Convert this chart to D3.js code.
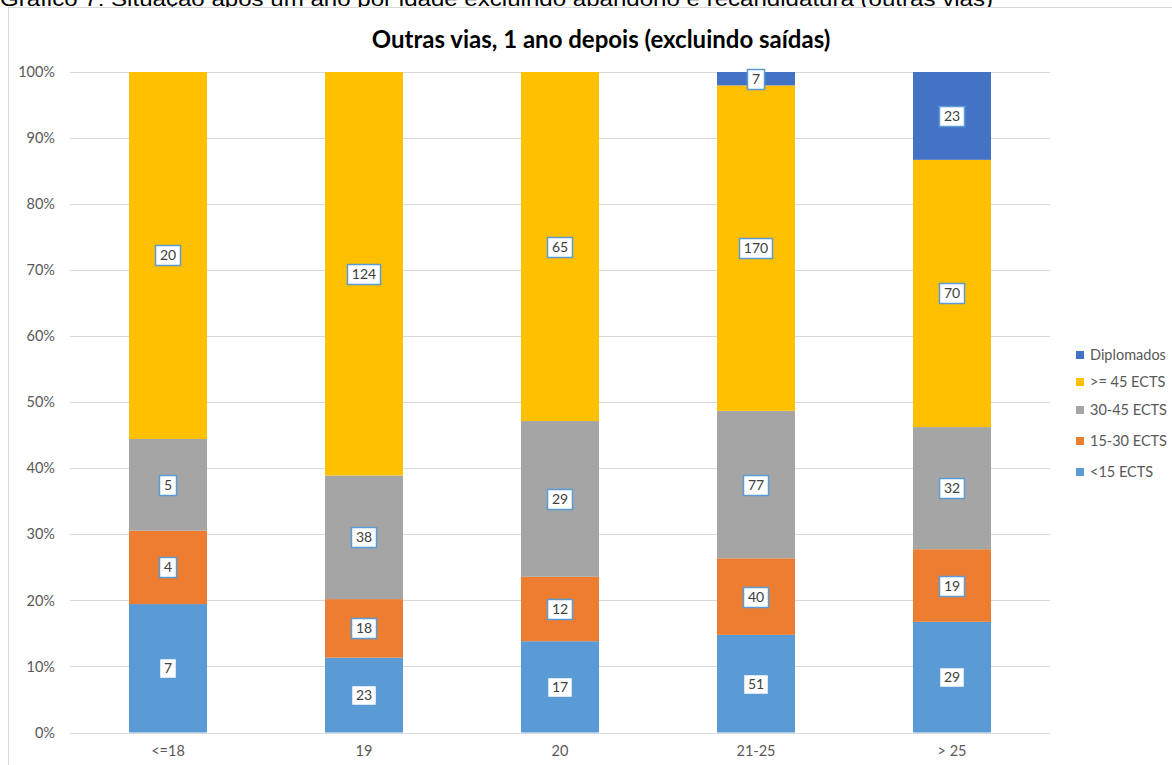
<!DOCTYPE html>
<html>
<head>
<meta charset="utf-8">
<script src="https://cdn.jsdelivr.net/npm/d3@7"></script>
<style>
  body { margin: 0; background: #fff; overflow: hidden; }
  svg { display: block; }
</style>
</head>
<body>
<script>
// data (counts per age group)
var ageGroups = ["<=18", "19", "20", "21-25", "> 25"];
var seriesNames = ["<15 ECTS", "15-30 ECTS", "30-45 ECTS", ">= 45 ECTS", "Diplomados"];
var below15 = [7, 23, 17, 51, 29];
var from15to30 = [4, 18, 12, 40, 19];
var from30to45 = [5, 38, 29, 77, 32];
var atLeast45 = [20, 124, 65, 170, 70];
var diplomados = [0, 0, 0, 7, 23];
var yTicks = [0, 0.1, 0.2, 0.3, 0.4, 0.5, 0.6, 0.7, 0.8, 0.9, 1];
var seriesColors = ["#5B9BD5", "#ED7D31", "#A5A5A5", "#FFC000", "#4472C4"];

var W = 1172, H = 765,
	fontName = "Lato, 'Open Sans', sans-serif";

var svg = d3.select("body").append("svg").attr("width", W).attr("height", H);

// figure caption, cut at the top of the page (as in the scanned original)
svg.append("text")
	.attr("x", 0).attr("y", 6)
	.attr("textLength", 993).attr("lengthAdjust", "spacingAndGlyphs")
	.style("font-family", "'Liberation Sans', Arial, sans-serif")
	.style("font-size", "21px")
	.style("fill", "#000")
	.text("Gráfico 7: Situação após um ano por idade excluindo abandono e recandidatura (outras vias)");

// chart frame
svg.append("rect")
	.attr("x", 8.5).attr("y", 7.5)
	.attr("width", W + 10).attr("height", H + 10)
	.attr("fill", "#fff").attr("stroke", "#D9D9D9");

svg.append("text")
	.attr("x", 601).attr("y", 48)
	.attr("text-anchor", "middle")
	.style("font-family", fontName)
	.style("font-size", "24px")
	.style("font-weight", "bold")
	.style("fill", "#000")
	.text("Outras vias, 1 ano depois (excluindo saídas)");

var rows = ageGroups.map(function (g, i) {
	var vals = [below15[i], from15to30[i], from30to45[i], atLeast45[i], diplomados[i]];
	var total = d3.sum(vals);
	var r = { group: g, total: total };
	seriesNames.forEach(function (s, k) { r[s] = vals[k] / total; r[s + "_n"] = vals[k]; });
	return r;
});

var x = d3.scaleBand().domain(ageGroups).range([70, 1050]).paddingInner(0).paddingOuter(0);
var y = d3.scaleLinear().domain([0, 1]).range([732.5, 72]);
var barW = 78;

// gridlines
svg.append("g").selectAll("line")
	.data(yTicks)
	.enter().append("line")
	.attr("x1", 70).attr("x2", 1050)
	.attr("y1", function (d) { return Math.round(y(d)) + 0.5; })
	.attr("y2", function (d) { return Math.round(y(d)) + 0.5; })
	.attr("stroke", "#D9D9D9");

// y axis labels
var yAxis = svg.append("g")
	.attr("transform", "translate(70,0)")
	.call(d3.axisLeft(y).tickValues(yTicks).tickFormat(d3.format(".0%")).tickSize(0).tickPadding(15));
yAxis.select(".domain").remove();
yAxis.selectAll("text")
	.style("font-family", fontName).style("font-size", "14.5px").style("fill", "#595959");

// x axis labels
var xAxis = svg.append("g")
	.attr("transform", "translate(0,733)")
	.call(d3.axisBottom(x).tickSize(0).tickPadding(13));
xAxis.select(".domain").remove();
xAxis.selectAll("text")
	.style("font-family", fontName).style("font-size", "14.5px").style("fill", "#595959");

var stacked = d3.stack().keys(seriesNames)(rows);

var layers = svg.append("g").selectAll("g")
	.data(stacked)
	.enter().append("g")
	.attr("fill", function (d, i) { return seriesColors[i]; });

layers.selectAll("rect")
	.data(function (d) { return d; })
	.enter().append("rect")
	.attr("x", function (d) { return x(d.data.group) + x.bandwidth() / 2 - barW / 2; })
	.attr("width", barW)
	.attr("y", function (d) { return y(d[1]); })
	.attr("height", function (d) { return y(d[0]) - y(d[1]); });

// data labels with boxes
var labels = svg.append("g");
stacked.forEach(function (layer) {
	layer.forEach(function (d) {
		var n = d.data[layer.key + "_n"];
		if (!n) return;
		var cx = x(d.data.group) + x.bandwidth() / 2,
			cy = (y(d[0]) + y(d[1])) / 2;
		var g = labels.append("g");
		var t = g.append("text")
			.attr("x", cx).attr("y", cy + 5)
			.attr("text-anchor", "middle")
			.style("font-family", fontName).style("font-size", "14px").style("fill", "#404040")
			.text(n);
		var w = t.node().getComputedTextLength() + 9;
		g.insert("rect", "text")
			.attr("x", Math.round(cx - w / 2) + 0.5).attr("y", Math.round(cy - 10) + 0.5)
			.attr("width", Math.round(w)).attr("height", 20)
			.attr("fill", "#fff").attr("stroke", "#5B9BD5").attr("stroke-width", 1.5);
	});
});

// legend (reverse order, top = Diplomados)
var legendY = [355, 382, 410, 441, 472];
var legend = svg.append("g").selectAll("g")
	.data(seriesNames.slice().reverse())
	.enter().append("g")
	.attr("transform", function (d, i) { return "translate(1076," + legendY[i] + ")"; });
legend.append("rect")
	.attr("x", 0).attr("y", -4).attr("width", 8).attr("height", 8)
	.attr("fill", function (d) { return seriesColors[seriesNames.indexOf(d)]; });
legend.append("text")
	.attr("x", 14).attr("y", 5)
	.style("font-family", fontName).style("font-size", "14.5px").style("fill", "#595959")
	.text(function (d) { return d; });
</script>
</body>
</html>
